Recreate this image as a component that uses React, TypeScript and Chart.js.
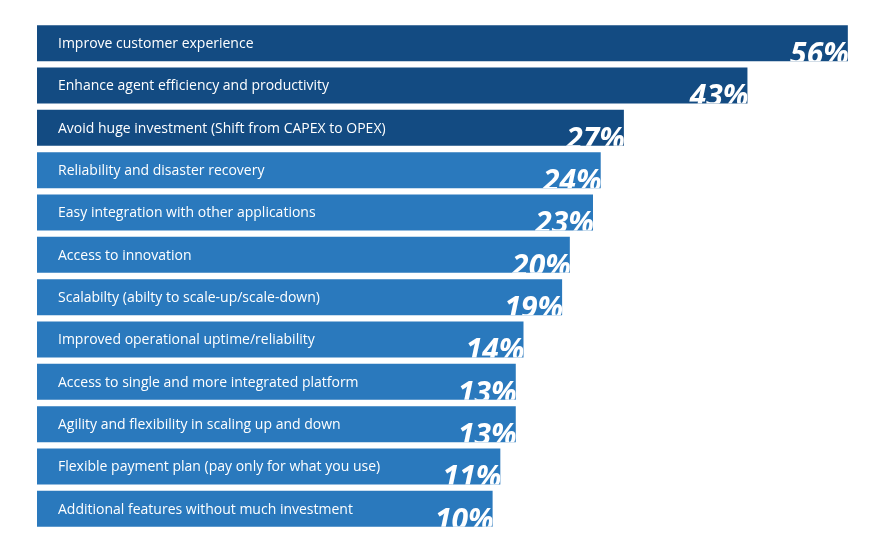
import React, { useEffect, useRef } from "react";
import { Chart, registerables } from "chart.js";

Chart.register(...registerables);

const categories: string[] = [
  "Improve customer experience",
  "Enhance agent efficiency and productivity",
  "Avoid huge investment (Shift from CAPEX to OPEX)",
  "Reliability and disaster recovery",
  "Easy integration with other applications",
  "Access to innovation",
  "Scalabilty (abilty to scale-up/scale-down)",
  "Improved operational uptime/reliability",
  "Access to single and more integrated platform",
  "Agility and flexibility in scaling up and down",
  "Flexible payment plan (pay only for what you use)",
  "Additional features without much investment",
];

const values: number[] = [56, 43, 27, 24, 23, 20, 19, 14, 13, 13, 11, 10];

const DARK = "#134b82";
const MID = "#2a79bd";
const barColors: string[] = values.map((_, i) => (i < 3 ? DARK : MID));

const labelPlugin = {
  id: "barLabels",
  afterDatasetsDraw(chart: any) {
    const { ctx } = chart;
    const meta = chart.getDatasetMeta(0);
    ctx.save();
    meta.data.forEach((bar: any, i: number) => {
      const p = bar.getProps(["x", "y", "base", "height"], true);
      const top = p.y - p.height / 2;
      const bottom = p.y + p.height / 2;
      // category label
      ctx.fillStyle = "#ffffff";
      ctx.font = "14px 'Open Sans', sans-serif";
      ctx.textAlign = "left";
      ctx.textBaseline = "middle";
      ctx.fillText(categories[i], p.base + 21, p.y + 1);
      // percentage label, clipped to bar
      ctx.save();
      ctx.beginPath();
      ctx.rect(p.base, top, p.x - p.base, bottom - top);
      ctx.clip();
      ctx.font = "italic 700 30px 'Open Sans', sans-serif";
      ctx.textAlign = "right";
      ctx.textBaseline = "alphabetic";
      ctx.fillText(values[i] + "%", p.x + 1, bottom + 3);
      ctx.restore();
    });
    ctx.restore();
  },
};

export default function App() {
  const ref = useRef<HTMLCanvasElement | null>(null);
  useEffect(() => {
    if (!ref.current) return;
    const chart = new Chart(ref.current, {
      type: "bar",
      data: {
        labels: categories,
        datasets: [
          {
            data: values,
            backgroundColor: barColors,
            base: -49,
            borderWidth: 0,
            categoryPercentage: 1,
            barPercentage: 0.85,
          } as any,
        ],
      },
      options: {
        indexAxis: "y",
        animation: false,
        responsive: true,
        maintainAspectRatio: false,
        layout: { padding: { left: 29, right: 2, top: 14, bottom: 3 } },
        plugins: {
          legend: { display: false },
          tooltip: { enabled: false },
        },
        scales: {
          x: { type: "linear", min: -49, max: 59, display: false },
          y: { display: false },
        },
      },
      plugins: [labelPlugin],
    });
    return () => chart.destroy();
  }, []);
  return (
    <div style={{ width: 865, height: 525 }}>
      <canvas ref={ref} />
    </div>
  );
}
